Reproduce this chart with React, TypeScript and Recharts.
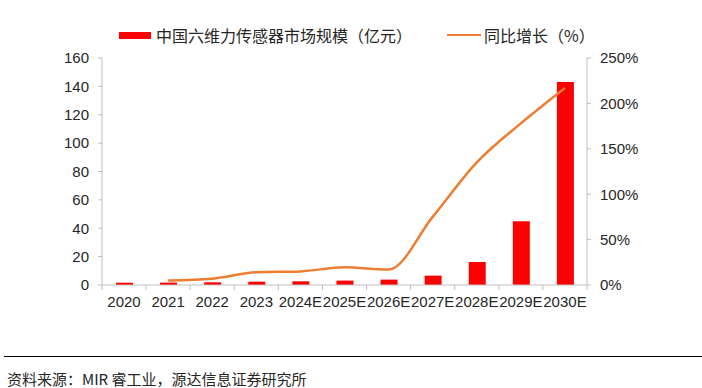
import React from 'react';
import { ComposedChart, Bar, Line, XAxis, YAxis } from 'recharts';

// 中国六维力传感器市场规模 + 同比增长
const years = ['2020', '2021', '2022', '2023', '2024E', '2025E', '2026E', '2027E', '2028E', '2029E', '2030E'];
const marketSize = [1.6, 1.7, 1.9, 2.3, 2.6, 3.1, 3.8, 6.6, 16.2, 45, 143];
const yoyGrowth = [null, 5, 7, 14, 15, 19.5, 17, 75, 135, 178, 217];
const leftTicks = [0, 20, 40, 60, 80, 100, 120, 140, 160];
const rightTicks = [0, 50, 100, 150, 200, 250];

const W = 702;
const PLOT_LEFT = 102;
const PLOT_RIGHT = 587;
const AXIS_GRAY = '#BFBFBF';
const TEXT = '#262626';
const FONT = '"Liberation Sans", "Noto Sans CJK SC", sans-serif';

const chartData = years.map((y, i) => ({ year: y, size: marketSize[i], yoy: yoyGrowth[i] }));

// x tick: label plus Excel-style boundary tick marks between categories
const XTick = (props: any) => {
  const { x, y, payload, index } = props;
  const step = (PLOT_RIGHT - PLOT_LEFT) / years.length;
  return (
    <g>
      <line x1={x - step / 2} x2={x - step / 2} y1={y} y2={y + 5} stroke={AXIS_GRAY} />
      {index === years.length - 1 && (
        <line x1={x + step / 2} x2={x + step / 2} y1={y} y2={y + 5} stroke={AXIS_GRAY} />
      )}
      <text x={x} y={y + 11} dy="0.71em" textAnchor="middle" fill={TEXT} fontSize={15} fontFamily={FONT}>
        {payload.value}
      </text>
    </g>
  );
};

export default function App() {
  return (
    <div style={{ position: 'absolute', left: 0, top: 0, width: W, height: 388, background: '#fff', fontFamily: FONT, color: TEXT }}>
      {/* legend */}
      <div style={{ position: 'absolute', top: 24, left: 119, height: 22, display: 'flex', alignItems: 'center', fontSize: 16, fontFamily: '"Noto Sans CJK SC", sans-serif' }}>
        <span style={{ display: 'inline-block', width: 32, height: 7, background: '#FF0000', marginRight: 5 }} />
        <span>中国六维力传感器市场规模（亿元）</span>
        <span style={{ display: 'inline-block', width: 34, height: 2.5, background: '#ED7D31', marginLeft: 35, marginRight: 3 }} />
        <span>同比增长（%）</span>
      </div>

      <ComposedChart
        width={W}
        height={330}
        data={chartData}
        margin={{ top: 58, right: 55, bottom: 15, left: 42 }}
      >
        <XAxis
          dataKey="year"
          interval={0}
          height={30}
          tickSize={0}
          tickMargin={0}
          tickLine={false}
          axisLine={{ stroke: AXIS_GRAY }}
          tick={<XTick />}
        />
        <YAxis
          yAxisId="left"
          width={60}
          domain={[0, 160]}
          ticks={leftTicks}
          interval={0}
          tickSize={4}
          tickMargin={9}
          axisLine={{ stroke: AXIS_GRAY }}
          tickLine={{ stroke: AXIS_GRAY }}
          tick={{ fill: TEXT, fontSize: 15, fontFamily: FONT }}
        />
        <YAxis
          yAxisId="right"
          orientation="right"
          width={60}
          domain={[0, 250]}
          ticks={rightTicks}
          interval={0}
          tickSize={4}
          tickMargin={9}
          tickFormatter={(v: number) => `${v}%`}
          axisLine={{ stroke: AXIS_GRAY }}
          tickLine={{ stroke: AXIS_GRAY }}
          tick={{ fill: TEXT, fontSize: 15, fontFamily: FONT }}
        />
        <Bar yAxisId="left" dataKey="size" fill="#FF0000" barSize={17} isAnimationActive={false} />
        <Line
          yAxisId="right"
          type="monotone"
          dataKey="yoy"
          stroke="#ED7D31"
          strokeWidth={2.5}
          dot={false}
          connectNulls
          isAnimationActive={false}
        />
      </ComposedChart>

      {/* footer */}
      <div style={{ position: 'absolute', left: 4, top: 356, width: 698, height: 1, background: '#000' }} />
      <div style={{ position: 'absolute', left: 7, top: 369, fontSize: 15, fontFamily: '"Noto Sans CJK SC", sans-serif', lineHeight: '20px' }}>
        资料来源：MIR 睿工业，源达信息证券研究所
      </div>
    </div>
  );
}
